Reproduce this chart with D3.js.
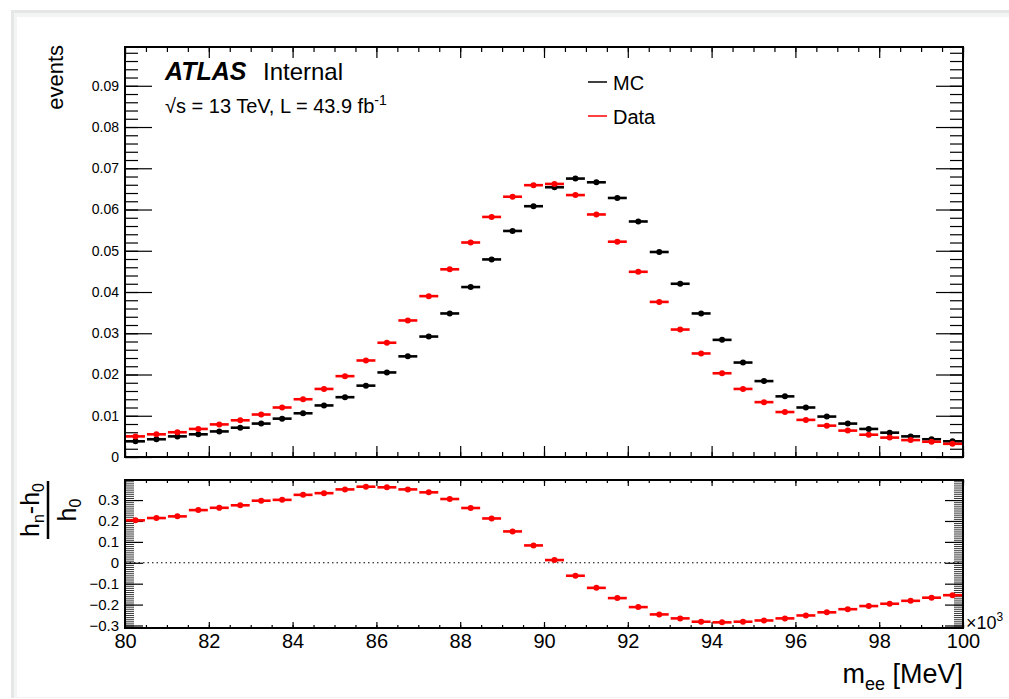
<!DOCTYPE html>
<html lang="en">

<head>
  <meta charset="UTF-8">
  <title>m_ee MC vs Data</title>
  <script src="https://d3js.org/d3.v7.min.js"></script>
  <style>
    body {
      margin: 0;
      background: #fff;
    }
    svg {
      display: block;
      font-family: "Liberation Sans", Arial, Helvetica, sans-serif;
    }
  </style>
</head>

<body>

  <div id="chart"></div>

  <script>
    // bin centres (0.5 wide bins from 80 to 100, x10^3 MeV)
    var binCenters = [80.25, 80.75, 81.25, 81.75, 82.25, 82.75, 83.25, 83.75, 84.25, 84.75,
      85.25, 85.75, 86.25, 86.75, 87.25, 87.75, 88.25, 88.75, 89.25, 89.75,
      90.25, 90.75, 91.25, 91.75, 92.25, 92.75, 93.25, 93.75, 94.25, 94.75,
      95.25, 95.75, 96.25, 96.75, 97.25, 97.75, 98.25, 98.75, 99.25, 99.75];
    var binWidth = 0.5;

    var mcValues = [0.0038, 0.0043, 0.0050, 0.0055, 0.0062, 0.0071, 0.0081, 0.0093, 0.0106, 0.0125,
      0.0145, 0.0173, 0.0205, 0.0244, 0.0292, 0.0348, 0.0412, 0.0479, 0.0548, 0.0608,
      0.0654, 0.0675, 0.0666, 0.0628, 0.0571, 0.0497, 0.0420, 0.0348, 0.0284, 0.0229,
      0.0184, 0.0147, 0.0120, 0.0098, 0.0081, 0.0068, 0.0059, 0.0050, 0.0043, 0.0038];

    var dataValues = [0.0050, 0.0055, 0.0060, 0.0068, 0.0079, 0.0089, 0.0103, 0.0120, 0.0140, 0.0165,
      0.0196, 0.0234, 0.0277, 0.0331, 0.0390, 0.0455, 0.0520, 0.0582, 0.0631, 0.0659,
      0.0662, 0.0635, 0.0588, 0.0522, 0.0449, 0.0376, 0.0309, 0.0251, 0.0203, 0.0165,
      0.0133, 0.0109, 0.0090, 0.0076, 0.0064, 0.0054, 0.0047, 0.0041, 0.0037, 0.0032];

    // (h_n - h_0) / h_0 as read from the lower pad
    var ratioValues = [0.203, 0.214, 0.222, 0.252, 0.263, 0.275, 0.297, 0.301, 0.325, 0.333,
      0.351, 0.364, 0.361, 0.351, 0.337, 0.305, 0.262, 0.212, 0.150, 0.083,
      0.013, -0.062, -0.120, -0.169, -0.212, -0.247, -0.266, -0.282, -0.285, -0.282,
      -0.276, -0.266, -0.252, -0.237, -0.222, -0.207, -0.196, -0.182, -0.167, -0.155];

    // tick labels
    var xTicks = [80, 82, 84, 86, 88, 90, 92, 94, 96, 98, 100];
    var yTicks = [0, 0.01, 0.02, 0.03, 0.04, 0.05, 0.06, 0.07, 0.08, 0.09];
    var ratioTicks = [-0.3, -0.2, -0.1, 0, 0.1, 0.2, 0.3];

    var width = 1009, height = 699;
    var svg = d3.select("#chart").append("svg")
      .attr("width", width)
      .attr("height", height);

    // window panel behind the canvas
    svg.append("rect").attr("x", 11).attr("y", 10).attr("width", 1000).attr("height", 688).attr("fill", "#e5e7e7");
    svg.append("rect").attr("x", 14).attr("y", 13).attr("width", 1000).attr("height", 685).attr("fill", "#f3f5f5");
    svg.append("rect").attr("x", 17).attr("y", 17).attr("width", 1000).attr("height", 680).attr("fill", "#fff");

    // pads
    var left = 125, right = 963;
    var top1 = 47, bottom1 = 457;
    var top2 = 480, bottom2 = 628;

    var x = d3.scaleLinear().domain([80, 100]).range([left, right]);
    var y = d3.scaleLinear().domain([0, 0.0994]).range([bottom1, top1]);
    var yr = d3.scaleLinear().domain([-0.312, 0.396]).range([bottom2, top2]);

    var xMinor = d3.range(80, 100.001, 0.5);
    var yMinor = d3.range(0, 0.0994, 0.002);
    var rMinor = d3.range(-0.31, 0.396, 0.01);

    function noText(g, w) {
      g.select(".domain").remove();
      g.selectAll("text").remove();
      g.selectAll("line").attr("stroke", "#000").attr("stroke-width", w || 1.2);
    }

    function styleAxis(g, size) {
      g.select(".domain").remove();
      g.selectAll("line").attr("stroke", "#000").attr("stroke-width", 1.2);
      g.selectAll("text").attr("font-size", size).attr("fill", "#000")
        .attr("font-family", "Liberation Sans, Arial, sans-serif");
    }

    // ---- upper pad axes ----
    svg.append("g").attr("transform", "translate(0," + bottom1 + ")")
      .call(d3.axisBottom(x).tickValues(xMinor).tickSizeInner(-5).tickSizeOuter(0)).call(noText);
    svg.append("g").attr("transform", "translate(0," + bottom1 + ")")
      .call(d3.axisBottom(x).tickValues(xTicks).tickSizeInner(-11).tickSizeOuter(0)).call(noText);
    svg.append("g").attr("transform", "translate(0," + top1 + ")")
      .call(d3.axisTop(x).tickValues(xMinor).tickSizeInner(-5).tickSizeOuter(0)).call(noText);
    svg.append("g").attr("transform", "translate(0," + top1 + ")")
      .call(d3.axisTop(x).tickValues(xTicks).tickSizeInner(-11).tickSizeOuter(0)).call(noText);

    svg.append("g").attr("transform", "translate(" + left + ",0)")
      .call(d3.axisLeft(y).tickValues(yMinor).tickSizeInner(-13).tickSizeOuter(0)).call(noText);
    svg.append("g").attr("transform", "translate(" + left + ",0)")
      .call(d3.axisLeft(y).tickValues(yTicks).tickSizeInner(-27).tickSizeOuter(0).tickPadding(6)
        .tickFormat(d => d === 0 ? "0" : d3.format(".2f")(d)))
      .call(g => styleAxis(g, 14));
    svg.append("g").attr("transform", "translate(" + right + ",0)")
      .call(d3.axisRight(y).tickValues(yMinor).tickSizeInner(-13).tickSizeOuter(0)).call(noText);
    svg.append("g").attr("transform", "translate(" + right + ",0)")
      .call(d3.axisRight(y).tickValues(yTicks).tickSizeInner(-27).tickSizeOuter(0)).call(noText);

    svg.append("rect")
      .attr("x", left).attr("y", top1)
      .attr("width", right - left).attr("height", bottom1 - top1)
      .attr("fill", "none").attr("stroke", "#000").attr("stroke-width", 2);

    // ---- lower pad axes ----
    svg.append("g").attr("transform", "translate(0," + bottom2 + ")")
      .call(d3.axisBottom(x).tickValues(xMinor).tickSizeInner(-3).tickSizeOuter(0)).call(noText);
    svg.append("g").attr("transform", "translate(0," + bottom2 + ")")
      .call(d3.axisBottom(x).tickValues(xTicks).tickSizeInner(-6).tickSizeOuter(0).tickPadding(6)
        .tickFormat(d3.format("d")))
      .call(g => styleAxis(g, 20));
    svg.append("g").attr("transform", "translate(0," + top2 + ")")
      .call(d3.axisTop(x).tickValues(xMinor).tickSizeInner(-3).tickSizeOuter(0)).call(noText);
    svg.append("g").attr("transform", "translate(0," + top2 + ")")
      .call(d3.axisTop(x).tickValues(xTicks).tickSizeInner(-6).tickSizeOuter(0)).call(noText);

    svg.append("g").attr("transform", "translate(" + left + ",0)")
      .call(d3.axisLeft(yr).tickValues(rMinor).tickSizeInner(-9).tickSizeOuter(0)).call(g => noText(g, 0.8));
    svg.append("g").attr("transform", "translate(" + left + ",0)")
      .call(d3.axisLeft(yr).tickValues(ratioTicks).tickSizeInner(-18).tickSizeOuter(0).tickPadding(6)
        .tickFormat(d => Math.abs(d) < 1e-9 ? "0" : d3.format(".1f")(d)))
      .call(g => styleAxis(g, 15));
    svg.append("g").attr("transform", "translate(" + right + ",0)")
      .call(d3.axisRight(yr).tickValues(rMinor).tickSizeInner(-9).tickSizeOuter(0)).call(g => noText(g, 0.8));
    svg.append("g").attr("transform", "translate(" + right + ",0)")
      .call(d3.axisRight(yr).tickValues(ratioTicks).tickSizeInner(-18).tickSizeOuter(0)).call(noText);

    svg.append("rect")
      .attr("x", left).attr("y", top2)
      .attr("width", right - left).attr("height", bottom2 - top2)
      .attr("fill", "none").attr("stroke", "#000").attr("stroke-width", 2);

    // zero line
    svg.append("line")
      .attr("x1", left).attr("x2", right)
      .attr("y1", yr(0)).attr("y2", yr(0))
      .attr("stroke", "#000").attr("stroke-width", 1)
      .attr("stroke-dasharray", "1.5,3");

    // ---- points with horizontal bin bars ----
    function drawSeries(values, yScale, color) {
      var g = svg.append("g");
      var pts = binCenters.map((c, i) => ({ c: c, v: values[i] }));
      g.selectAll("line").data(pts).enter().append("line")
        .attr("x1", d => x(d.c - binWidth / 2) + 1)
        .attr("x2", d => x(d.c + binWidth / 2) - 1)
        .attr("y1", d => yScale(d.v))
        .attr("y2", d => yScale(d.v))
        .attr("stroke", color).attr("stroke-width", 2.6);
      g.selectAll("circle").data(pts).enter().append("circle")
        .attr("cx", d => x(d.c))
        .attr("cy", d => yScale(d.v))
        .attr("r", 3)
        .attr("fill", color);
    }

    drawSeries(mcValues, y, "#000");
    drawSeries(dataValues, y, "#ff0000");
    drawSeries(ratioValues, yr, "#ff0000");

    // ---- texts ----
    svg.append("text")
      .attr("transform", "translate(63,45) rotate(-90)")
      .attr("text-anchor", "end")
      .attr("font-size", 22)
      .text("events");

    svg.append("text")
      .attr("x", 165).attr("y", 80)
      .attr("font-size", 25).attr("font-weight", "bold").attr("font-style", "italic")
      .text("ATLAS");
    svg.append("text")
      .attr("x", 263).attr("y", 80)
      .attr("font-size", 24)
      .text("Internal");

    var lumi = svg.append("text").attr("x", 165).attr("y", 113).attr("font-size", 20);
    lumi.append("tspan").text("\u221As = 13 TeV, L = 43.9 fb");
    lumi.append("tspan").attr("dy", -8).attr("font-size", 14).text("-1");

    // legend
    svg.append("line").attr("x1", 588).attr("x2", 607).attr("y1", 82).attr("y2", 82)
      .attr("stroke", "#000").attr("stroke-width", 1.5);
    svg.append("text").attr("x", 613).attr("y", 90).attr("font-size", 20).text("MC");
    svg.append("line").attr("x1", 588).attr("x2", 607).attr("y1", 116).attr("y2", 116)
      .attr("stroke", "#ff0000").attr("stroke-width", 1.5);
    svg.append("text").attr("x", 613).attr("y", 124).attr("font-size", 20).text("Data");

    // ratio title as a fraction
    var frac = svg.append("g").attr("transform", "translate(0,510) rotate(-90)");
    var num = frac.append("text").attr("x", 0).attr("y", 39)
      .attr("text-anchor", "middle").attr("font-size", 25);
    num.append("tspan").text("h");
    num.append("tspan").attr("dy", 5).attr("font-size", 16).text("n");
    num.append("tspan").attr("dy", -5).text("-h");
    num.append("tspan").attr("dy", 5).attr("font-size", 16).text("0");
    frac.append("line").attr("x1", -29).attr("x2", 29).attr("y1", 48).attr("y2", 48)
      .attr("stroke", "#000").attr("stroke-width", 2.5);
    var den = frac.append("text").attr("x", 0).attr("y", 76)
      .attr("text-anchor", "middle").attr("font-size", 25);
    den.append("tspan").text("h");
    den.append("tspan").attr("dy", 5).attr("font-size", 16).text("0");

    // x title
    var xt = svg.append("text").attr("x", right).attr("y", 683)
      .attr("text-anchor", "end").attr("font-size", 27);
    xt.append("tspan").text("m");
    xt.append("tspan").attr("dy", 7).attr("font-size", 18).text("ee");
    xt.append("tspan").attr("dy", -7).text(" [MeV]");

    // exponent label (kept inside the window)
    var ex = svg.append("text").attr("x", 966).attr("y", 629).attr("font-size", 18);
    ex.append("tspan").text("\u00d710");
    ex.append("tspan").attr("dy", -8).attr("font-size", 12).text("3");
  </script>

</body>

</html>
